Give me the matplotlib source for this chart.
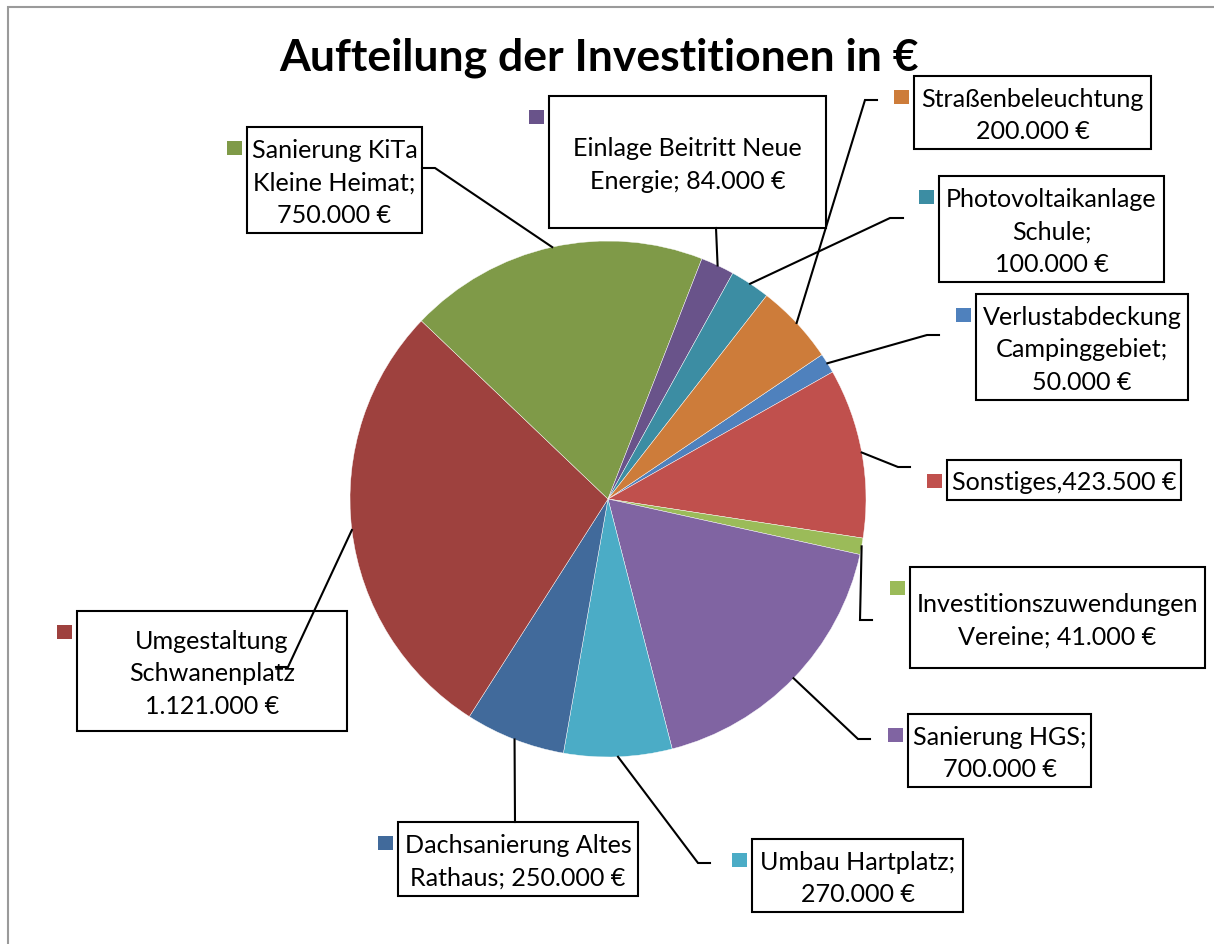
import matplotlib
matplotlib.use("Agg")
import numpy as np
import matplotlib.pyplot as plt
from matplotlib.patches import Rectangle

plt.rcParams['font.family'] = ['Lato', 'DejaVu Sans']

W, H = 1214, 945

# slice data, clockwise from the first slice
names = ["Verlustabdeckung\nCampinggebiet;\n", "Sonstiges,",
         "Investitionszuwendungen\nVereine; ", "Sanierung HGS;\n",
         "Umbau Hartplatz;\n", "Dachsanierung Altes\nRathaus; ",
         "Umgestaltung\nSchwanenplatz\n", "Sanierung KiTa\nKleine Heimat;\n",
         "Einlage Beitritt Neue\nEnergie; ", "Photovoltaikanlage\nSchule;\n",
         "Straßenbeleuchtung\n"]
values = [50000, 423500, 41000, 700000, 270000, 250000,
          1121000, 750000, 84000, 100000, 200000]
colors = ["#4F81BD", "#C0504D", "#9BBB59", "#8064A2", "#4BACC6", "#416A9B",
          "#9E413E", "#7F9A48", "#69538A", "#3C8DA3", "#CD7C3A"]

# label boxes (left, top, right, bottom) in pixels, leader elbow and end
boxes = [(976, 295, 1188, 401), (947, 461, 1181, 501), (910, 568, 1205, 669),
         (908, 715, 1091, 788), (752, 840, 963, 913), (398, 823, 638, 897),
         (77, 612, 347, 732), (247, 128, 422, 234), (549, 97, 826, 229),
         (939, 177, 1164, 283), (914, 77, 1151, 150)]
elbows = [(927, 336), (898, 468), (860, 621), (858, 740), (698, 864), (515, 823),
          (288, 668), (435, 169), (716, 229), (890, 219), (865, 101)]
ends = [(939, 336), (910, 468), (872, 621), (870, 740), (710, 864), (515, 823),
        (276, 668), (422, 169), (716, 229), (903, 219), (877, 101)]


def py(y):
    return H - y


def euro(v):
    return "{:,}".format(v).replace(",", ".") + " €"


fig = plt.figure(figsize=(W / 100, H / 100), dpi=100)
ax = fig.add_axes([0, 0, 1, 1])
cx, cy, r = 608, py(500), 258
wedges, _ = ax.pie(values, colors=colors, startangle=34, counterclock=False,
                   center=(cx, cy), radius=r,
                   wedgeprops=dict(edgecolor="white", linewidth=0.3))
ax.set_xlim(0, W)
ax.set_ylim(0, H)
ax.set_aspect("equal")
ax.axis("off")

# chart area border
ax.add_patch(Rectangle((8, py(1300)), 1300, 1300 - 8, fill=False,
                       edgecolor="#9a9a9a", lw=1.5))

ax.text(599, py(58), "Aufteilung der Investitionen in €", ha="center",
        va="center", fontsize=32, fontweight="bold")

fs = 18.1
for w, name, v, col, b, el, en in zip(wedges, names, values, colors, boxes, elbows, ends):
    mid = np.deg2rad((w.theta1 + w.theta2) / 2)
    sx, sy = cx + r * np.cos(mid), cy + r * np.sin(mid)
    ax.plot([sx, el[0], en[0]], [sy, py(el[1]), py(en[1])], color="black", lw=1.5,
            solid_joinstyle="miter")
    x0, y0, x1, y1 = b
    ax.add_patch(Rectangle((x0, py(y1)), x1 - x0, y1 - y0, fill=False,
                           edgecolor="black", lw=1.5))
    ax.add_patch(Rectangle((x0 - 20, py(y0 + 28)), 14.5, 14.5, facecolor=col,
                           edgecolor="none"))
    ax.text((x0 + x1) / 2, py((y0 + y1) / 2 + 2), name + euro(v), ha="center",
            va="center", multialignment="center", fontsize=fs,
            linespacing=1.56 * 17.5 / fs)

fig.savefig("out.png", dpi=100)
